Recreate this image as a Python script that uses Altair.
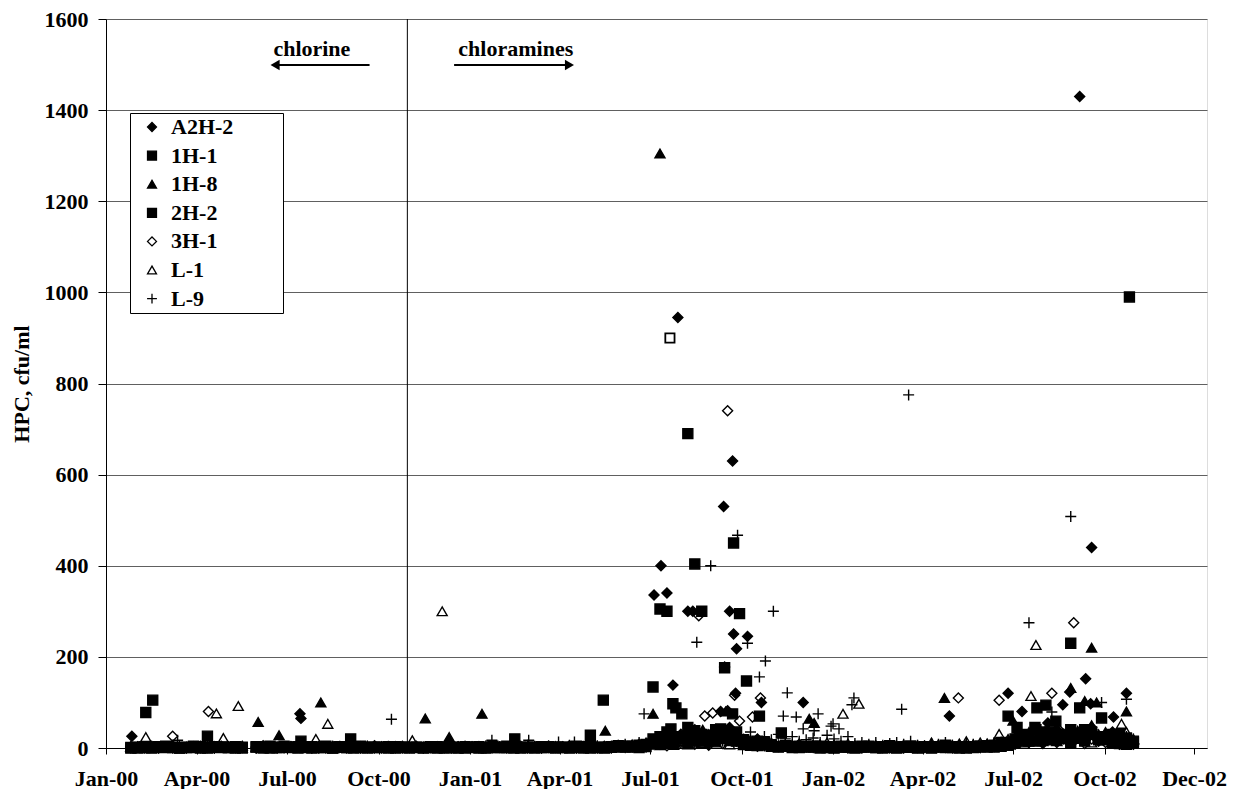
import altair as alt
import pandas as pd

FONT = "Liberation Serif"
FS = 22

SERIES = ["A2H-2", "1H-1", "1H-8", "2H-2", "3H-1", "L-1", "L-9"]
SHAPES = ["diamond", "square", "triangle-up", "square", "diamond", "triangle-up",
          "M-1.1,0H1.1M0,-1.1V1.1"]
FILLS = ["black", "black", "black", "black", "transparent", "transparent", "transparent"]

# x-axis tick positions and labels come from these dates
tick_dates = ["2000-01-01", "2000-04-01", "2000-07-01", "2000-10-01", "2001-01-01",
              "2001-04-01", "2001-07-01", "2001-10-01", "2002-01-01", "2002-04-01",
              "2002-07-01", "2002-10-01", "2002-12-30"]
x_domain = ["2000-01-01", "2003-01-12"]
y_ticks = [0, 200, 400, 600, 800, 1000, 1200, 1400, 1600]

# weekly sampling dates
grid_2000 = ["2000-01-26",
             "2000-02-02", "2000-02-09", "2000-02-16", "2000-02-23",
             "2000-03-01", "2000-03-08", "2000-03-15", "2000-03-22", "2000-03-29",
             "2000-04-05", "2000-04-12", "2000-04-19", "2000-04-26",
             "2000-05-03", "2000-05-10", "2000-05-17", "2000-05-31",
             "2000-06-07", "2000-06-14", "2000-06-21", "2000-06-28",
             "2000-07-05", "2000-07-12", "2000-07-19", "2000-07-26",
             "2000-08-02", "2000-08-09", "2000-08-16", "2000-08-23", "2000-08-30",
             "2000-09-06", "2000-09-13", "2000-09-20", "2000-09-27",
             "2000-10-04", "2000-10-11", "2000-10-18", "2000-10-25",
             "2000-11-01", "2000-11-08", "2000-11-15", "2000-11-22", "2000-11-29",
             "2000-12-06", "2000-12-13", "2000-12-20", "2000-12-27"]
grid_2001 = ["2001-01-03", "2001-01-10", "2001-01-17", "2001-01-24", "2001-01-31",
             "2001-02-07", "2001-02-14", "2001-02-21", "2001-02-28",
             "2001-03-07", "2001-03-14", "2001-03-21", "2001-03-28",
             "2001-04-04", "2001-04-11", "2001-04-18", "2001-04-25",
             "2001-05-02", "2001-05-09", "2001-05-16", "2001-05-23", "2001-05-30",
             "2001-06-06", "2001-06-13", "2001-06-20", "2001-06-27",
             "2001-07-04", "2001-07-11", "2001-07-18", "2001-07-25",
             "2001-08-01", "2001-08-08", "2001-08-15", "2001-08-22", "2001-08-29",
             "2001-09-05", "2001-09-12", "2001-09-19", "2001-09-26",
             "2001-10-03", "2001-10-10", "2001-10-17", "2001-10-24", "2001-10-31",
             "2001-11-07", "2001-11-14", "2001-11-21", "2001-11-28",
             "2001-12-05", "2001-12-12", "2001-12-19", "2001-12-26"]
grid_2002 = ["2002-01-02", "2002-01-09", "2002-01-16", "2002-01-23", "2002-01-30",
             "2002-02-06", "2002-02-13", "2002-02-20", "2002-02-27",
             "2002-03-06", "2002-03-13", "2002-03-20", "2002-03-27",
             "2002-04-03", "2002-04-10", "2002-04-17", "2002-04-24",
             "2002-05-01", "2002-05-08", "2002-05-15", "2002-05-22", "2002-05-29",
             "2002-06-05", "2002-06-12", "2002-06-19", "2002-06-26",
             "2002-07-03", "2002-07-10", "2002-07-17", "2002-07-24", "2002-07-31",
             "2002-08-07", "2002-08-14", "2002-08-21", "2002-08-28",
             "2002-09-04", "2002-09-11", "2002-09-18", "2002-09-25",
             "2002-10-02", "2002-10-09", "2002-10-16", "2002-10-23", "2002-10-30"]

# routine (low) counts on the weekly grid, per series and year
a2h2_2000 = [3, 2, 1, 4, 0, 2, 5, 1, 0, 3, 1, 2, 0, 4, 2, 1, 3, 0, 5, 2, 1, 0, 3, 6, 2, 1,
             0, 2, 4, 1, 3, 2, 0, 1, 5, 3, 1, 2, 0, 1, 4, 0, 2, 3, 1, 0, 2, 4]
a2h2_2001 = [2, 1, 0, 3, 1, 0, 2, 4, 1, 3, 0, 1, 2, 1, 5, 0, 2, 2, 0, 3, 1, 4, 1, 3, 6, 2,
             12, 8, 25, 15, 30, 18, 40, 22, 10, 35, 20, 45, 28, 15, 8, 20, 5, 9,
             4, 6, 2, 8, 3, 1, 5, 2]
a2h2_2002 = [2, 4, 1, 3, 0, 5, 2, 1, 3, 2, 0, 4, 1, 3, 6, 2, 1, 0, 4, 2, 5, 1, 3, 8, 5, 10,
             15, 22, 30, 18, 12, 25, 40, 20, 35, 30, 18, 45, 25, 20, 35, 15, 10, 8]

h11_2000 = [1, 0, 3, 1, 2, 4, 1, 0, 2, 1, 3, 0, 2, 1, 1, 3, 0, 2, 2, 0, 1, 4, 1, 3, 2, 0,
            2, 1, 0, 3, 1, 0, 4, 2, 1, 2, 3, 0, 1, 0, 2, 1, 3, 0, 2, 1, 0, 3]
h11_2001 = [1, 3, 0, 2, 1, 4, 0, 2, 1, 0, 3, 1, 2, 2, 1, 4, 0, 3, 1, 0, 2, 5, 2, 4, 1, 8,
            20, 10, 35, 18, 25, 45, 15, 30, 20, 40, 22, 30, 15, 18, 10, 6, 12, 4,
            3, 5, 1, 2, 2, 4, 0, 3]
h11_2002 = [1, 3, 2, 0, 4, 2, 1, 3, 5, 0, 2, 4, 1, 3, 1, 2, 6, 2, 0, 3, 1, 4, 5, 2, 12, 6,
            20, 30, 15, 40, 25, 35, 18, 28, 12, 22, 40, 30, 18, 25, 12, 30, 8, 15]

h18_2000 = [2, 1, 0, 3, 2, 0, 1, 4, 2, 0, 1, 3, 1, 0, 2, 0, 5, 1, 3, 1, 2, 0, 4, 2, 0, 1,
            3, 0, 2, 1, 0, 1, 2, 5, 0, 2, 0, 1, 3, 4, 1, 2, 0, 1, 3, 0, 2, 1]
h18_2001 = [0, 2, 1, 3, 0, 2, 1, 0, 4, 1, 3, 2, 0, 0, 2, 1, 3, 1, 4, 2, 0, 6, 3, 8, 5, 12,
            15, 22, 10, 28, 18, 35, 25, 12, 30, 20, 38, 15, 25, 10, 18, 6, 14, 8,
            5, 3, 8, 2, 4, 6, 1, 3]
h18_2002 = [3, 1, 4, 0, 2, 1, 5, 2, 0, 3, 2, 0, 4, 2, 4, 1, 5, 6, 2, 8, 3, 1, 4, 10, 6, 15,
            25, 12, 35, 20, 18, 30, 45, 20, 28, 38, 25, 50, 30, 35, 20, 28, 12, 18]

h22_2000 = [0, 2, 1, 0, 3, 1, 2, 0, 1, 4, 0, 1, 3, 2, 1, 0, 2, 3, 0, 4, 1, 2, 2, 0, 1, 3,
            1, 4, 0, 2, 1, 3, 1, 0, 2, 1, 0, 3, 2, 2, 1, 0, 1, 3, 0, 2, 1, 0]
h22_2001 = [2, 0, 1, 4, 1, 1, 3, 0, 2, 2, 1, 3, 0, 1, 0, 2, 3, 0, 2, 1, 3, 2, 4, 2, 6, 3,
            10, 25, 15, 8, 22, 12, 38, 20, 28, 15, 30, 20, 35, 12, 6, 15, 8, 5,
            2, 4, 3, 1, 3, 2, 4, 1]
h22_2002 = [0, 2, 3, 1, 2, 4, 1, 0, 3, 1, 3, 2, 0, 2, 0, 3, 1, 1, 3, 0, 2, 4, 2, 6, 4, 8,
            12, 28, 20, 15, 35, 18, 30, 25, 40, 28, 15, 35, 22, 18, 30, 10, 22, 12]

h31_2000 = [1, 3, 0, 2, 1, 2, 0, 3, 1, 2, 4, 1, 0, 2, 3, 2, 1, 0, 1, 3, 0, 2, 2, 1, 4, 0,
            3, 0, 1, 2, 0, 2, 3, 1, 0, 0, 2, 1, 4, 1, 3, 0, 2, 1, 2, 0, 3, 1]
h31_2001 = [3, 1, 2, 0, 2, 1, 4, 2, 0, 2, 0, 3, 1, 3, 2, 0, 1, 2, 1, 4, 0, 3, 5, 2, 8, 4,
            8, 15, 5, 20, 12, 25, 8, 18, 6, 20, 10, 28, 15, 8, 12, 4, 10, 6,
            3, 6, 2, 4, 2, 5, 3, 1]
h31_2002 = [4, 2, 0, 3, 1, 2, 3, 1, 0, 4, 1, 2, 3, 1, 3, 5, 2, 3, 6, 2, 4, 1, 5, 3, 10, 7,
            8, 18, 12, 25, 10, 20, 12, 30, 15, 25, 10, 20, 15, 12, 20, 8, 15, 10]

l1_2000 = [2, 1, 3, 0, 2, 3, 1, 2, 0, 1, 2, 0, 4, 1, 1, 2, 0, 3, 2, 1, 3, 0, 0, 3, 1, 2,
           4, 0, 2, 1, 3, 1, 2, 0, 3, 3, 1, 4, 0, 2, 0, 1, 3, 2, 1, 3, 0, 2]
l1_2001 = [1, 4, 2, 0, 3, 2, 0, 3, 1, 0, 2, 1, 4, 3, 1, 0, 2, 2, 3, 1, 5, 2, 4, 6, 3, 9,
           10, 6, 18, 12, 15, 8, 22, 10, 18, 12, 25, 8, 15, 6, 10, 4, 8, 12,
           5, 8, 3, 10, 6, 4, 8, 12]
l1_2002 = [8, 5, 10, 6, 4, 3, 6, 2, 5, 4, 8, 3, 6, 5, 12, 8, 4, 6, 10, 15, 8, 12, 10, 6, 14, 20,
           12, 25, 18, 30, 15, 22, 15, 28, 18, 20, 30, 12, 25, 18, 28, 22, 35, 20]

l9_2000 = [0, 2, 1, 3, 0, 1, 3, 2, 0, 1, 0, 2, 1, 3, 2, 0, 1, 3, 3, 1, 0, 2, 1, 2, 3, 0,
           0, 1, 2, 4, 1, 2, 0, 3, 1, 1, 4, 0, 2, 3, 1, 2, 0, 1, 0, 2, 3, 1]
l9_2001 = [2, 0, 5, 1, 3, 1, 3, 2, 6, 4, 2, 5, 1, 3, 6, 2, 4, 2, 5, 1, 3, 6, 8, 4, 12, 6,
           15, 10, 20, 12, 18, 25, 10, 20, 15, 25, 15, 30, 20, 20, 35, 15, 25, 18,
           30, 20, 25, 15, 18, 22, 12, 28]
l9_2002 = [20, 15, 25, 10, 12, 8, 12, 6, 10, 12, 8, 15, 6, 5, 10, 8, 12, 6, 4, 10, 8, 5,
           8, 12, 5, 15, 15, 20, 12, 25, 18, 20, 15, 30, 22, 25, 18, 35, 20, 22, 30, 15, 25, 20]

# individual higher counts
a2h2_dates = ["2000-01-27", "2000-07-14", "2000-07-15", "2001-07-05", "2001-07-12",
              "2001-07-18", "2001-07-24", "2001-07-29", "2001-08-08", "2001-08-13",
              "2001-09-10", "2001-09-13", "2001-09-14", "2001-09-17", "2001-09-18",
              "2001-09-19", "2001-09-22", "2001-09-23", "2001-09-25", "2001-09-26",
              "2001-10-07", "2001-10-21", "2001-12-02", "2002-04-28", "2002-06-26",
              "2002-07-10", "2002-08-05", "2002-08-20", "2002-08-27", "2002-09-06",
              "2002-09-12", "2002-09-17", "2002-09-18", "2002-10-10", "2002-10-23"]
a2h2_vals = [26, 75, 65, 336, 400, 340, 138, 945, 300, 300, 80, 530, 178, 82, 42, 300, 630,
             250, 120, 218, 245, 100, 100, 70, 120, 80, 55, 95, 123, 1430, 152, 97, 440,
             68, 120]

h11_dates = ["2000-02-10", "2000-02-17", "2000-09-03", "2001-05-02", "2001-07-11",
             "2001-07-18", "2001-07-22", "2001-07-27", "2001-08-02", "2001-08-08",
             "2001-08-15", "2001-09-10", "2001-09-14", "2001-09-22", "2001-09-23",
             "2001-10-19", "2002-06-26", "2002-07-23", "2002-07-25", "2002-08-28",
             "2002-09-06", "2002-10-26"]
h11_vals = [78, 105, 20, 28, 305, 300, 42, 88, 75, 690, 404, 42, 176, 75, 450, 70, 70, 45,
            88, 230, 88, 990]

h22_dates = ["2000-04-12", "2000-07-15", "2001-02-15", "2001-05-15", "2001-07-04",
             "2001-07-24", "2001-08-22", "2001-09-29", "2001-10-06", "2001-11-10",
             "2002-07-05", "2002-08-03", "2002-08-13", "2002-09-28", "2002-10-21"]
h22_vals = [26, 15, 20, 105, 134, 97, 300, 295, 147, 33, 45, 94, 59, 66, 20]

h18_dates = ["2000-06-02", "2000-06-23", "2000-08-04", "2000-11-17", "2000-12-11",
             "2001-01-13", "2001-05-17", "2001-07-04", "2001-07-11", "2001-08-09",
             "2001-08-23", "2001-09-15", "2001-12-08", "2001-12-13", "2002-04-23",
             "2002-07-01", "2002-08-28", "2002-09-11", "2002-09-18", "2002-09-23",
             "2002-10-23"]
h18_vals = [57, 28, 100, 65, 24, 75, 38, 75, 1305, 38, 40, 80, 64, 55, 110, 60, 132, 103,
            220, 100, 80]

h31_dates = ["2000-03-08", "2000-04-13", "2001-08-19", "2001-08-25", "2001-09-02",
             "2001-09-17", "2001-09-24", "2001-09-29", "2001-10-12", "2001-10-20",
             "2002-05-07", "2002-06-17", "2002-08-09", "2002-08-15", "2002-08-31"]
h31_vals = [26, 80, 290, 70, 77, 740, 116, 59, 68, 110, 110, 105, 120, 42, 275]

l1_dates = ["2000-02-10", "2000-04-21", "2000-04-28", "2000-05-13", "2000-07-30",
            "2000-08-11", "2000-11-04", "2000-12-04", "2002-01-11", "2002-01-27",
            "2002-06-17", "2002-07-19", "2002-07-24", "2002-10-18"]
l1_vals = [24, 76, 22, 92, 20, 53, 17, 300, 75, 97, 31, 114, 226, 53]

l9_dates = ["2000-03-13", "2000-10-14", "2001-01-23", "2001-03-01", "2001-03-31",
            "2001-04-16", "2001-06-25", "2001-08-17", "2001-08-31", "2001-09-27",
            "2001-10-07", "2001-10-19", "2001-10-25", "2001-11-02", "2001-11-12",
            "2001-11-16", "2001-11-25", "2001-12-02", "2001-12-13", "2001-12-17",
            "2001-12-30", "2002-01-01", "2002-01-07", "2002-01-20", "2002-01-22",
            "2002-03-11", "2002-03-18", "2002-07-05", "2002-07-17", "2002-08-08",
            "2002-08-09", "2002-08-28", "2002-09-28", "2002-10-23"]
l9_vals = [17, 63, 17, 17, 13, 13, 75, 232, 400, 467, 230, 156, 191, 300, 70, 121, 68, 42,
           38, 75, 48, 53, 42, 95, 110, 85, 775, 30, 275, 31, 79, 508, 100, 107]

# one open-square sample that is not in the legend
odd_dates = ["2001-07-21"]
odd_vals = [900]

# treatment change and annotations
switch_date = ["2000-10-30"]
note_text = ["chlorine", "chloramines"]
note_dates = ["2000-07-26", "2001-02-16"]
note_y = [1519, 1519]
arrow_from = ["2000-06-19", "2000-12-16"]
arrow_to = ["2000-09-22", "2001-04-11"]
arrow_y = [1499, 1499]
left_head = ["2000-06-19"]
right_head = ["2001-04-11"]
head_y = [1499]

base = {
    "A2H-2": (a2h2_2000, a2h2_2001, a2h2_2002, a2h2_dates, a2h2_vals),
    "1H-1": (h11_2000, h11_2001, h11_2002, h11_dates, h11_vals),
    "1H-8": (h18_2000, h18_2001, h18_2002, h18_dates, h18_vals),
    "2H-2": (h22_2000, h22_2001, h22_2002, h22_dates, h22_vals),
    "3H-1": (h31_2000, h31_2001, h31_2002, h31_dates, h31_vals),
    "L-1": (l1_2000, l1_2001, l1_2002, l1_dates, l1_vals),
    "L-9": (l9_2000, l9_2001, l9_2002, l9_dates, l9_vals),
}

rows = []
for s in SERIES:
    v0, v1, v2, xd, xv = base[s]
    for g, v in ((grid_2000, v0), (grid_2001, v1), (grid_2002, v2)):
        for d, val in zip(g, v):
            rows.append({"date": d, "hpc": val, "series": s})
    for d, val in zip(xd, xv):
        rows.append({"date": d, "hpc": val, "series": s})
df = pd.DataFrame(rows)


def ms(s):
    return int(pd.Timestamp(s, tz="UTC").value // 10**6)


xscale = alt.Scale(type="utc", domain=[ms(x_domain[0]), ms(x_domain[1])])
yscale = alt.Scale(domain=[0, 1600])

x_axis = alt.Axis(values=[ms(t) for t in tick_dates],
                  labelExpr="utcFormat(datum.value, '%b-%y')",
                  title=None, grid=False, tickSize=6, labelPadding=14,
                  labelFlush=False, labelOverlap=False,
                  labelFont=FONT, labelFontSize=FS, labelFontWeight="bold",
                  labelColor="black", tickColor="black", domainColor="black")
y_axis = alt.Axis(values=y_ticks, format="d", title="HPC, cfu/ml", titleFont=FONT,
                  titleFontSize=FS, titleFontWeight="bold", titleColor="black",
                  titlePadding=11,
                  labelFont=FONT, labelFontSize=FS, labelFontWeight="bold",
                  labelColor="black", tickSize=8, labelPadding=10,
                  tickColor="black", domainColor="black",
                  grid=True, gridColor="#606060", gridWidth=1)

legend = alt.Legend(orient="none", legendX=24, legendY=94,
                    title="\u00a0", titleOrient="right", titleColor="white",
                    titleFontSize=FS, titlePadding=47,
                    direction="vertical", strokeColor="black", fillColor="white",
                    padding=3, rowPadding=6.6, symbolOffset=8, labelOffset=8,
                    labelFont=FONT, labelFontSize=FS, labelFontWeight="bold",
                    labelColor="black", symbolSize=80, symbolFillColor="black",
                    symbolStrokeColor="black", symbolStrokeWidth=1.3)

points = alt.Chart(df).mark_point(filled=True, size=100, stroke="black",
                                  strokeWidth=1.4, opacity=1).encode(
    x=alt.X("date:T", scale=xscale, axis=x_axis),
    y=alt.Y("hpc:Q", scale=yscale, axis=y_axis),
    shape=alt.Shape("series:N", scale=alt.Scale(domain=SERIES, range=SHAPES), legend=legend),
    color=alt.Color("series:N", scale=alt.Scale(domain=SERIES, range=FILLS), legend=legend),
)

odd = alt.Chart(pd.DataFrame({"date": odd_dates, "hpc": odd_vals})).mark_point(
    shape="square", filled=True, fill="white", stroke="black", strokeWidth=1.8,
    size=85, opacity=1).encode(x="date:T", y="hpc:Q")

vline = alt.Chart(pd.DataFrame({"date": switch_date})).mark_rule(
    color="black", strokeWidth=1).encode(x="date:T")

notes = alt.Chart(pd.DataFrame({"date": note_dates, "y": note_y, "t": note_text})).mark_text(
    font=FONT, fontSize=FS, fontWeight="bold", color="black", align="center",
    baseline="alphabetic").encode(x="date:T", y="y:Q", text="t:N")

arrows = alt.Chart(pd.DataFrame({"a": arrow_from, "b": arrow_to, "y": arrow_y})).mark_rule(
    color="black", strokeWidth=2.2).encode(x="a:T", x2="b:T", y="y:Q")

lhead = alt.Chart(pd.DataFrame({"date": left_head, "y": head_y})).mark_point(
    shape="triangle-left", filled=True, fill="black", stroke="black", strokeWidth=0,
    size=110, opacity=1).encode(x="date:T", y="y:Q")
rhead = alt.Chart(pd.DataFrame({"date": right_head, "y": head_y})).mark_point(
    shape="triangle-right", filled=True, fill="black", stroke="black", strokeWidth=0,
    size=110, opacity=1).encode(x="date:T", y="y:Q")

chart = alt.layer(vline, points, odd, notes, arrows, lhead, rhead).properties(
    width=1101, height=729,
    padding={"left": 2, "top": 0, "right": 0, "bottom": 0},
).configure_view(stroke="#808080", strokeWidth=1.5).configure(background="white")

chart.save("out.html", embed_options={"renderer": "svg", "actions": False})
